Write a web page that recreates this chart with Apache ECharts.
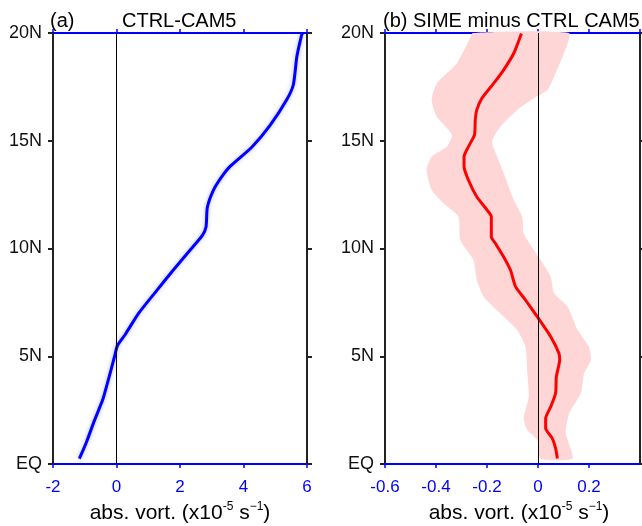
<!DOCTYPE html>
<html lang="en">
<head>
    <meta charset="UTF-8">
    <title>abs. vort. profiles</title>
    <script src="https://cdn.jsdelivr.net/npm/echarts@6/dist/echarts.min.js"></script>
</head>
<body style="margin:0">
    <div id="container" style="width: 642px;height: 526px"></div>
<script>
// (a) CTRL-CAM5 : latitude (deg N) and absolute vorticity (x1e-5 s-1)
var ctrlLat  = [0.25, 1, 2, 3, 4, 5, 5.5, 6, 7, 8, 9, 10, 10.6, 11, 11.9, 12.7, 13.3, 13.8, 14.7, 15.7, 16.9, 17.6, 18.9, 19.9, 20];
var ctrlVort = [-1.17, -0.95, -0.7, -0.43, -0.24, -0.06, 0.03, 0.27, 0.7, 1.24, 1.79, 2.36, 2.7, 2.82, 2.86, 3.05, 3.3, 3.57, 4.26, 4.83, 5.36, 5.57, 5.68, 5.83, 5.86];

// (b) SIME minus CTRL : mean line
var diffLat  = [0.26, 0.73, 1.19, 1.66, 2.12, 2.66, 3.28, 4.05, 4.83, 5.14, 5.91, 6.84, 7.61, 8.23, 9.0, 9.62, 10.2, 10.55, 11.48, 11.79, 12.4, 13.18, 13.8, 14.26, 14.72, 15.27, 15.96, 16.43, 16.97, 17.66, 18.28, 19.06, 19.98];
var diffVort = [0.076, 0.069, 0.056, 0.03, 0.03, 0.05, 0.069, 0.072, 0.085, 0.082, 0.05, -0.003, -0.049, -0.088, -0.108, -0.135, -0.165, -0.183, -0.183, -0.2, -0.24, -0.273, -0.29, -0.29, -0.273, -0.249, -0.246, -0.24, -0.22, -0.174, -0.135, -0.095, -0.065];

// (b) uncertainty band edges
var bandLoLat = [0.26, 1.11, 1.58, 2.12, 3.12, 4.21, 5.44, 6.22, 6.99, 7.76, 8.54, 9.47, 10.4, 11.48, 12.1, 12.71, 13.64, 14.26, 14.72, 15.27, 16.12, 16.89, 17.66, 18.6, 19.67, 20];
var bandLo    = [0.010, -0.003, -0.042, -0.056, -0.036, -0.042, -0.049, -0.082, -0.148, -0.213, -0.24, -0.253, -0.305, -0.312, -0.371, -0.417, -0.437, -0.417, -0.358, -0.338, -0.397, -0.417, -0.397, -0.318, -0.27, -0.255];
var bandHiLat = [0.26, 1.42, 2.35, 3.28, 4.21, 4.83, 5.44, 6.22, 7.3, 7.92, 8.69, 9.47, 9.93, 10.71, 11.48, 12.25, 13.49, 14.26, 14.96, 15.65, 16.43, 16.97, 17.35, 17.97, 19.06, 20];
var bandHi    = [0.135, 0.109, 0.122, 0.168, 0.181, 0.207, 0.2, 0.155, 0.116, 0.063, 0.05, 0.010, -0.016, -0.056, -0.062, -0.095, -0.134, -0.16, -0.18, -0.148, -0.082, -0.016, 0.037, 0.063, 0.102, 0.121];

var latTicks = {0: 'EQ', 5: '5N', 10: '10N', 15: '15N', 20: '20N'};

var FONT = 'Liberation Sans';
var chart = echarts.init(document.getElementById('container'));

function zip(xs, ys) {
    return xs.map(function (x, i) { return [x, ys[i]]; });
}

var axName = 'abs. vort. (x10{sup|-5} s{sup|\u22121})';
var nameRich = {
    sup: {fontSize: 12, fontFamily: FONT, color: '#000', verticalAlign: 'top', lineHeight: 12}
};

function bottomAxis(idx, min, max, step, pad) {
    return {
        type: 'value', gridIndex: idx, position: 'bottom', min: min, max: max, interval: step,
        axisLine: {onZero: false, lineStyle: {color: '#0000ff', width: 2}},
        axisTick: {length: 4, lineStyle: {color: '#0000ff', width: 1.5}},
        axisLabel: {color: '#0000ff', fontSize: 17, fontFamily: FONT, margin: 15, showMaxLabel: idx === 0},
        splitLine: {show: false},
        name: axName, nameLocation: 'middle', nameGap: 35,
        nameTextStyle: {color: '#000', fontSize: 21, fontFamily: FONT, lineHeight: 24, padding: [0, 0, 0, pad], rich: nameRich}
    };
}
function topAxis(idx, min, max, step) {
    return {
        type: 'value', gridIndex: idx, position: 'top', min: min, max: max, interval: step,
        axisLine: {onZero: false, lineStyle: {color: '#0000ff', width: 2}},
        axisTick: {length: 4, lineStyle: {color: '#0000ff', width: 1.5}},
        axisLabel: {show: false}, splitLine: {show: false}
    };
}
function latAxis(idx, pos, labels) {
    return {
        type: 'value', gridIndex: idx, position: pos, min: 0, max: 20, interval: 5,
        axisLine: {onZero: false, lineStyle: {color: '#222', width: 2}},
        axisTick: {length: 5, lineStyle: {color: '#222', width: 2}},
        axisLabel: {show: labels, color: '#111', fontSize: 18, fontFamily: FONT, margin: 11,
            formatter: function (v) { return latTicks[v]; }},
        splitLine: {show: false}
    };
}

var zeroLine = {
    silent: true, symbol: 'none', label: {show: false},
    lineStyle: {color: '#000', width: 1, type: 'solid'},
    data: [{xAxis: 0}]
};

var titleStyle = {fontSize: 20, fontWeight: 'normal', color: '#000', fontFamily: FONT};

chart.setOption({
    backgroundColor: '#fff',
    animation: false,
    textStyle: {fontFamily: FONT},
    title: [
        {text: '(a)', left: 50, top: 11, padding: 0, textStyle: titleStyle},
        {text: 'CTRL-CAM5', left: 122, top: 11, padding: 0, textStyle: titleStyle},
        {text: '(b) SIME minus CTRL CAM5', left: 383, top: 11, padding: 0, textStyle: titleStyle}
    ],
    grid: [
        {left: 53, right: 335, top: 33, bottom: 62, containLabel: false, outerBoundsMode: 'none'},
        {left: 385, right: 2, top: 33, bottom: 62, containLabel: false, outerBoundsMode: 'none'}
    ],
    xAxis: [
        bottomAxis(0, -2, 6, 2, 0),
        topAxis(0, -2, 6, 2),
        bottomAxis(1, -0.6, 0.4, 0.2, 13),
        topAxis(1, -0.6, 0.4, 0.2)
    ],
    yAxis: [
        latAxis(0, 'left', true),
        latAxis(0, 'right', false),
        latAxis(1, 'left', true),
        latAxis(1, 'right', false)
    ],
    series: [
        {
            name: 'CTRL-CAM5', type: 'line', xAxisIndex: 0, yAxisIndex: 0,
            data: zip(ctrlVort, ctrlLat), showSymbol: false, smooth: 0.2,
            lineStyle: {color: '#0000ff', width: 3, shadowColor: 'rgba(0,0,255,0.3)', shadowBlur: 4},
            markLine: zeroLine, z: 3
        },
        {
            name: 'band', type: 'custom', xAxisIndex: 2, yAxisIndex: 2, data: [[0, 0]], silent: true,
            renderItem: function (params, api) {
                var pts = [];
                for (var i = 0; i < bandLo.length; i++) pts.push(api.coord([bandLo[i], bandLoLat[i]]));
                for (var j = bandHi.length - 1; j >= 0; j--) pts.push(api.coord([bandHi[j], bandHiLat[j]]));
                return {type: 'polygon', shape: {points: pts, smooth: 0.2}, style: {fill: '#ffd6d6'}};
            },
            z: 1
        },
        {
            name: 'SIME minus CTRL', type: 'line', xAxisIndex: 2, yAxisIndex: 2,
            data: zip(diffVort, diffLat), showSymbol: false, smooth: 0.2,
            lineStyle: {color: '#ff0000', width: 3},
            markLine: zeroLine, z: 3
        }
    ]
});
</script>
</body>
</html>
